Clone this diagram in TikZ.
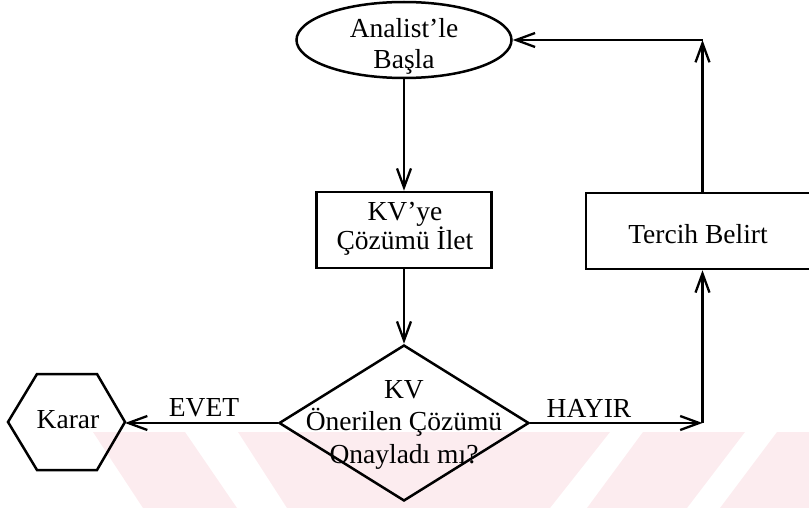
\documentclass[tikz,border=0pt]{standalone}
\usepackage{fontspec}
\setmainfont{Liberation Serif}
\usetikzlibrary{shapes.geometric,arrows.meta}
\definecolor{wm}{RGB}{252,236,239}
\begin{document}
\begin{tikzpicture}[x=1pt,y=-1pt,
  ln/.style={line width=2.5pt},
  arr/.style={ln,-{Straight Barb[length=19pt,width=14pt,line width=2.3pt]}},
  txt/.style={font=\fontsize{27.5}{31}\selectfont, inner sep=0pt, align=center},
  shp/.style={draw,ln,inner sep=0pt}
  ]
\useasboundingbox (0,0) rectangle (809,508);
% background watermark band
\fill[wm] (93,432) -- (185,432) -- (237,508) -- (143,508) -- cycle;
\fill[wm] (238,432) -- (610,432) -- (550,508) -- (287,508) -- cycle;
\fill[wm] (643,432) -- (745,432) -- (687,508) -- (587,508) -- cycle;
\fill[wm] (777,432) -- (809,432) -- (809,508) -- (720,508) -- cycle;

% shapes
\node[shp,ellipse,minimum width=215pt,minimum height=76pt] (start) at (404,40) {};
\node[txt,anchor=north] (start-t) at (404,18.5) {Analist’le\\Başla};

\node[shp,rectangle,minimum width=175pt,minimum height=76pt] (box) at (404,230) {};
\node[txt,anchor=north,font=\fontsize{27.5}{29}\selectfont] (box-t) at (405,202.5) {KV’ye\\Çözümü İlet};

\node[shp,diamond,minimum width=250pt,minimum height=156pt] (dia) at (404,423) {};
\node[txt,anchor=north,font=\fontsize{27.5}{32.5}\selectfont] (dia-t) at (404,380) {KV\\Önerilen Çözümü\\Onayladı mı?};

\node[shp,rectangle,minimum width=225pt,minimum height=76pt] (tb) at (698.5,231) {};
\node[txt,anchor=base] (tb-t) at (698,243) {Tercih Belirt};

\draw[ln] (8,422) -- (37,374) -- (97,374) -- (125,422) coordinate (k-e) -- (97,470) -- (37,470) -- cycle;
\node[txt,anchor=base] (karar) at (68,428) {Karar};

\coordinate (c1) at (702.5,423);
\coordinate (c2) at (702.5,40);

% connectors
\draw[arr] (start) -- (box);
\draw[arr] (box) -- (dia);
\draw[arr] (dia.west) -- (dia.west -| k-e);
\draw[arr] (dia.east) -- (c1);
\draw[arr] (c1) -- (c1 |- tb.south);
\draw[arr] (c2 |- tb.north) -- (c2);
\draw[arr] (c2) -- (start.east);

% labels
\node[txt,anchor=base] (evet) at (204,416) {EVET};
\node[txt,anchor=base] (hayir) at (589,417) {HAYIR};
\end{tikzpicture}
\end{document}
